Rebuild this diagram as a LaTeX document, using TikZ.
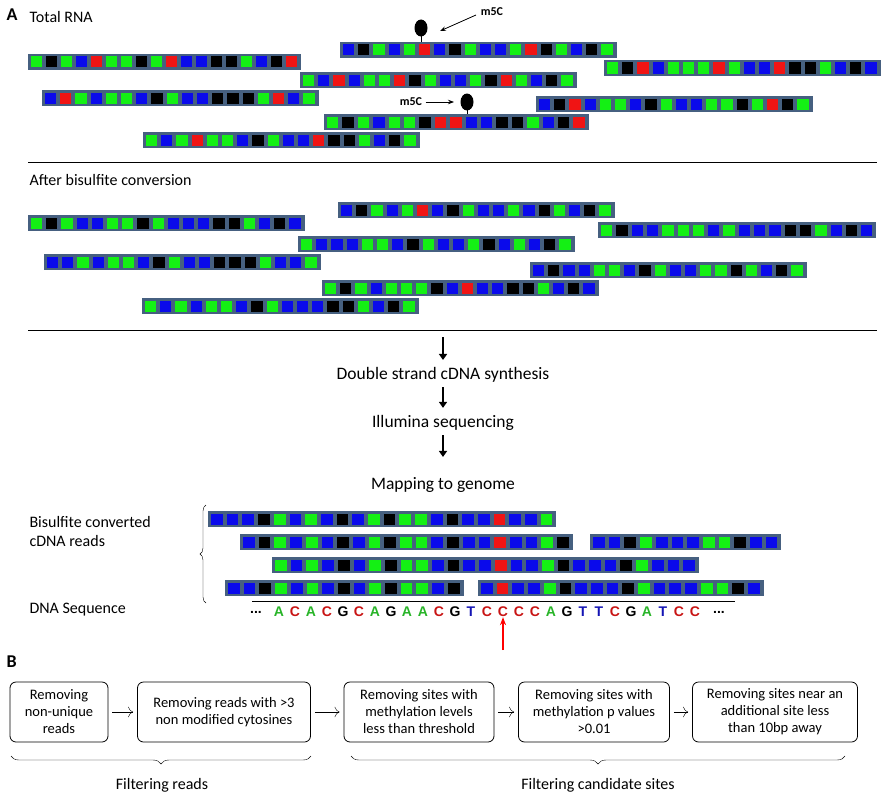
\documentclass[tikz,border=0pt]{standalone}
\usepackage{fontspec}
\setmainfont{Carlito}
\newfontfamily\seqfont{Liberation Sans}
\usetikzlibrary{positioning,decorations.pathreplacing,arrows.meta}
\definecolor{stripframe}{RGB}{70,96,128}
\definecolor{cellgreen}{RGB}{20,240,20}
\definecolor{cellblue}{RGB}{10,10,235}
\definecolor{cellred}{RGB}{240,20,20}
\definecolor{seqgreen}{RGB}{40,180,40}
\definecolor{seqred}{RGB}{200,20,20}
\definecolor{seqblue}{RGB}{20,20,180}
\tikzset{
  cell G/.style={fill=cellgreen}, cell B/.style={fill=cellblue},
  cell K/.style={fill=black}, cell R/.style={fill=cellred},
  seq A/.style={text=seqgreen}, seq C/.style={text=seqred},
  seq G/.style={text=black}, seq T/.style={text=seqblue},
  step box/.style={draw, rounded corners=6pt, thick, align=center, font=\fontsize{14.5}{17}\selectfont, inner sep=2pt},
  next step/.style={-{To[length=5pt]}, shorten <=4pt, shorten >=4pt},
  flow/.style={-{Triangle[length=6pt,width=8pt]}, line width=2.5pt},
  label/.style={anchor=west, font=\fontsize{16}{18}\selectfont}
}
% strip: x, y, pitch, cells
\newcommand\rnastrip[4]{%
  \foreach \c [count=\i] in {#4} {
    \fill[stripframe] ({#1+(\i-1)*#3},#2) rectangle ++(#3+3,16);
  }
  \foreach \c [count=\i] in {#4} {
    \fill[cell \c] ({#1+3+(\i-1)*#3},#2+2.5) rectangle ++(#3-4,11);
  }
}
\begin{document}
\begin{tikzpicture}[x=1pt,y=-1pt]
\useasboundingbox (0,0) rectangle (883,800);
\node[anchor=west, font=\fontsize{18}{20}\selectfont\bfseries] (A) at (3,15) {A};
\node[label] (total) at (26,17) {Total RNA};
% total RNA
\rnastrip{340}{42}{15.2}{B,K,G,B,G,R,B,K,G,B,B,G,R,K,G,B,K,G}
\rnastrip{28}{54}{15}{G,K,G,B,R,G,G,K,G,R,B,B,K,K,G,B,K,R}
\rnastrip{604}{60}{15.2}{G,K,R,B,G,G,G,R,G,B,B,R,K,K,G,B,K,B}
\rnastrip{300}{72}{15.2}{G,B,R,B,G,G,R,K,G,B,B,G,K,R,G,B,K,G}
\rnastrip{42}{90}{15.2}{B,R,G,B,G,G,B,K,G,B,B,K,K,K,G,R,B,G}
\rnastrip{536}{96}{15.2}{B,K,R,B,G,G,B,K,G,B,B,G,G,K,G,R,K,G}
\rnastrip{324}{114}{15.4}{G,K,G,B,G,G,K,R,R,B,B,K,K,G,B,K,R}
\rnastrip{143}{132}{15.2}{G,B,G,R,G,G,B,K,G,B,B,R,K,K,G,B,K,G}
% m5C marks
\fill (421,28) ellipse (6.5 and 8.5) coordinate (dot1);
\draw (421,28) -- (421,42);
\node[font=\fontsize{12}{14}\selectfont\bfseries] (m1) at (492,12) {m5C};
\draw[-{Stealth[length=6pt]}, thick] (476,15) -- (440,31);
\fill (467,102) ellipse (6.5 and 8.5) coordinate (dot2);
\draw (467,102) -- (467,114);
\node[font=\fontsize{12}{14}\selectfont\bfseries] (m2) at (411,102) {m5C};
\draw[-{Stealth[length=6pt]}, thick] (m2.east) -- (454,102);
\draw (28,162) coordinate (l1a) -- (877,162) coordinate (l1b);
\node[label] (after) at (26,180) {After bisulfite conversion};
% after bisulfite
\rnastrip{338}{202}{15.2}{B,K,G,B,G,R,B,K,G,B,B,G,B,K,G,B,K,G}
\rnastrip{28}{215}{15.2}{G,K,G,B,B,G,G,K,G,B,B,B,K,K,G,B,K,B}
\rnastrip{598}{222}{15.3}{G,K,B,B,G,G,G,B,G,B,B,B,K,K,G,B,K,B}
\rnastrip{298}{236}{15.2}{G,B,B,B,G,G,B,K,G,B,B,G,K,B,G,B,K,G}
\rnastrip{44}{254}{15.2}{B,B,G,B,G,G,B,K,G,B,B,K,K,K,G,B,B,G}
\rnastrip{530}{262}{15.2}{B,K,B,B,G,G,B,K,G,B,B,G,G,K,G,B,K,G}
\rnastrip{322}{280}{15.2}{G,K,G,B,G,G,G,K,B,R,B,B,K,K,G,B,K,B}
\rnastrip{142}{298}{15.2}{G,B,G,B,G,G,B,K,G,B,B,B,K,K,G,B,K,G}
\draw (28,330) coordinate (l2a) -- (877,330) coordinate (l2b);
% workflow
\node[font=\fontsize{17.5}{20}\selectfont] (cdna) at (443,375) {Double strand cDNA synthesis};
\node[font=\fontsize{17.5}{20}\selectfont] (illu) at (443,423) {Illumina sequencing};
\node[font=\fontsize{17.5}{20}\selectfont] (map) at (443,485) {Mapping to genome};
\coordinate (top) at (443,337);
\draw[flow, shorten >=4pt] (top) -- (cdna.north);
\draw[flow, shorten <=1pt, shorten >=4pt] (cdna.south) -- (illu.north);
\draw[flow, shorten <=1pt, shorten >=17pt] (illu.south) -- (map.north);
% reads
\rnastrip{208}{511}{15.7}{B,B,B,K,G,B,G,B,K,B,G,K,G,G,B,K,B,B,R,B,B,G}
\rnastrip{240}{534}{15.7}{B,K,G,B,G,B,K,B,G,K,G,G,B,K,B,B,R,B,B,G,K}
\rnastrip{590}{534}{15.7}{B,B,K,G,B,B,B,G,G,K,B,B}
\rnastrip{272}{557}{15.7}{G,B,G,B,K,B,G,K,G,G,B,K,B,B,R,B,B,G,K,B,B,B,K,G,B,B,B}
\rnastrip{225}{580}{15.7}{B,B,K,G,B,G,B,K,B,G,K,G,G,B,K}
\rnastrip{478}{580}{15.7}{B,R,B,B,G,K,B,B,B,K,G,B,B,B,G,G,K,B}
\node[label] (bis) at (26,522) {Bisulfite converted};
\node[label] (reads) at (26,541) {cDNA reads};
\node[label] (dnaseq) at (26,610) {DNA Sequence};
\draw[decorate, decoration={brace, amplitude=6pt}] (206,603) coordinate (br1) -- (206,505) coordinate (br2);
\draw (252,601) coordinate (sq1) -- (735,601) coordinate (sq2);
\node[font=\seqfont\fontsize{14}{16}\selectfont\bfseries] (dotsl) at (256,612) {...};
\foreach \b [count=\i] in {A,C,A,C,G,C,A,G,A,A,C,G,T,C,C,C,C,A,G,T,T,C,G,A,T,C,C}
  \node[seq \b, font=\seqfont\fontsize{14}{16}\selectfont\bfseries, inner sep=0pt] (b\i) at ({279+16*(\i-1)},612) {\b};
\node[font=\seqfont\fontsize{14}{16}\selectfont\bfseries] (dotsr) at (719,612) {...};
\coordinate (up) at (503,650);
\draw[-{Stealth[length=8pt]}, red, line width=1.5pt] (up) -- (b15.south);
% part B
\node[anchor=west, font=\fontsize{18}{20}\selectfont\bfseries] (B) at (3,662) {B};
\node[step box, minimum width=98pt, minimum height=60pt] (s1) at (59,712) {Removing\\non-unique\\reads};
\node[step box, minimum width=173pt, minimum height=60pt] (s2) at (224,712) {Removing reads with >3\\non modified cytosines};
\node[step box, minimum width=150pt, minimum height=60pt] (s3) at (419,712) {Removing sites with\\methylation levels\\less than threshold};
\node[step box, minimum width=151pt, minimum height=60pt] (s4) at (594,712) {Removing sites with\\methylation p values\\>0.01};
\node[step box, minimum width=165pt, minimum height=60pt] (s5) at (775,712) {Removing sites near an\\additional site less\\than 10bp away};
\foreach \a/\b in {s1/s2,s2/s3,s3/s4,s4/s5} \draw[next step] (\a) -- (\b);
\draw[decorate, decoration={brace, mirror, amplitude=8pt}] (11,756) coordinate (fr1) -- (311,756) coordinate (fr2);
\draw[decorate, decoration={brace, mirror, amplitude=8pt}] (351,756) coordinate (fc1) -- (845,756) coordinate (fc2);
\node[font=\fontsize{16}{18}\selectfont] (freads) at (162,785) {Filtering reads};
\node[font=\fontsize{16}{18}\selectfont] (fsites) at (598,785) {Filtering candidate sites};
\end{tikzpicture}
\end{document}
